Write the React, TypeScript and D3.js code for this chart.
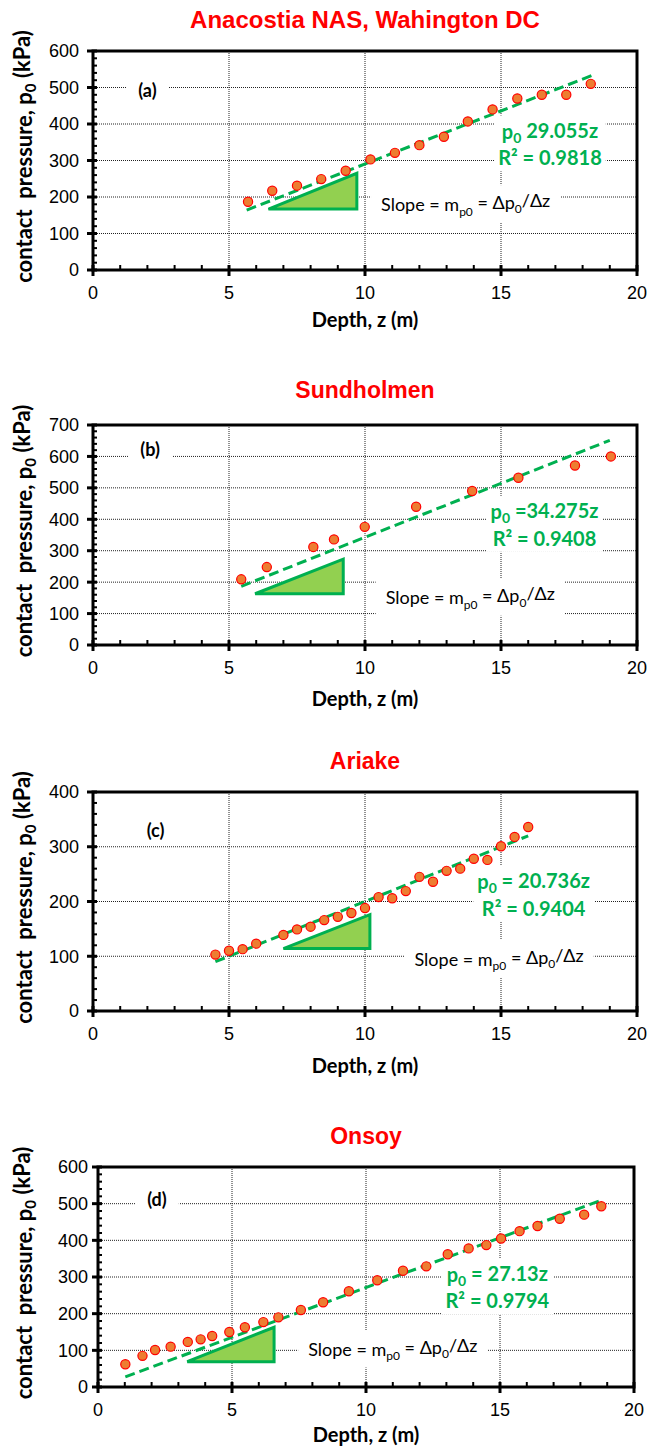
import React, { useRef, useEffect } from 'react'
import * as d3 from 'd3'

// Anacostia NAS
const depthA = [5.7, 6.59, 7.5, 8.39, 9.29, 10.2, 11.1, 12.0, 12.9, 13.78, 14.69, 15.6, 16.5, 17.4, 18.3]
const pressureA = [187, 217, 231, 249, 272, 303, 321, 342, 365, 407, 440, 470, 480, 480, 510]
// Sundholmen
const depthB = [5.45, 6.39, 8.1, 8.86, 9.99, 11.88, 13.94, 15.64, 17.72, 19.04]
const pressureB = [209, 248, 312, 336, 376, 440, 490, 532, 571, 600]
// Ariake
const depthC = [4.5, 5, 5.5, 6, 7, 7.5, 8, 8.5, 9, 9.5, 10, 10.5, 11, 11.5, 12, 12.5, 13, 13.5, 14, 14.5, 15, 15.5, 16]
const pressureC = [103, 110, 113, 123, 139, 149, 154, 166, 172, 179, 188, 208, 206, 219, 245, 236, 256, 260, 278, 276, 301, 318, 336]
// Onsoy
const depthD = [1.02, 1.66, 2.13, 2.71, 3.35, 3.83, 4.26, 4.9, 5.48, 6.17, 6.73, 7.57, 8.4, 9.36, 10.42, 11.38, 12.25, 13.05, 13.83, 14.49, 15.04, 15.73, 16.4, 17.23, 18.14, 18.78]
const pressureD = [62, 85, 101, 110, 123, 130, 139, 150, 163, 177, 190, 210, 231, 261, 291, 317, 329, 362, 378, 387, 405, 425, 439, 459, 470, 493]

const titles = ['Anacostia NAS, Wahington DC', 'Sundholmen', 'Ariake', 'Onsoy']
const tags = ['(a)', '(b)', '(c)', '(d)']
const yMaxes = [600, 700, 400, 600]
const xTicks = [0, 5, 10, 15, 20]
// fitted line: p0 = slope * z, drawn over [from, to]
const fitSlopes = [29.055, 34.275, 20.0, 27.13]
const fitRanges = [[5.65, 18.35], [5.45, 19.0], [4.5, 16.0], [1.02, 18.83]]
const eqLines = [
  ['29.055z', 'R² = 0.9818', ' '],
  ['34.275z', 'R² = 0.9408', ' ='],
  ['20.736z', 'R² = 0.9404', ' = '],
  ['27.13z', 'R² = 0.9794', ' = '],
]
// annotation anchors in data units [z, p]
const tagPos = [[2.0, 490], [2.1, 620], [2.3, 330], [2.2, 510]]
const eqPos = [[16.8, 378, 306], [16.6, 422, 338], [16.2, 235, 187], [14.9, 305, 234]]
const slopePos = [[13.7, 178], [13.87, 149], [14.93, 94], [11.0, 101]]
// slope triangles [z0, z1, p0, p1]
const triangles = [[6.45, 9.7, 167, 265], [5.96, 9.2, 163, 273], [7.0, 10.18, 114, 176], [3.33, 6.57, 69, 163]]

const series = [[depthA, pressureA], [depthB, pressureB], [depthC, pressureC], [depthD, pressureD]]

// frame geometry per panel
const frames = [
  { left: 93, right: 637, top: 51, bottom: 270, titleY: 20, titleSize: 24, xLabelDy: 50, tickGap: 14 },
  { left: 93, right: 637, top: 425, bottom: 645, titleY: 390, titleSize: 23, xLabelDy: 54, tickGap: 14 },
  { left: 93, right: 637, top: 792, bottom: 1011, titleY: 761, titleSize: 23, xLabelDy: 55, tickGap: 14 },
  { left: 98, right: 634, top: 1167, bottom: 1387, titleY: 1136, titleSize: 23, xLabelDy: 48, tickGap: 10 },
]

const GREEN = '#00B050'
const CAL = 'Lato, "DejaVu Sans", sans-serif'
const ARIAL = '"Liberation Sans", Arial, sans-serif'

export default function App() {
  const svgRef = useRef(null)

  useEffect(() => {
    const svg = d3.select(svgRef.current)
    svg.selectAll('*').remove()

    frames.forEach((f, i) => {
      const [depth, pressure] = series[i]
      const x = d3.scaleLinear().domain([0, 20]).range([f.left, f.right])
      const y = d3.scaleLinear().domain([0, yMaxes[i]]).range([f.bottom, f.top])
      const g = svg.append('g')

      // title
      g.append('text')
        .attr('x', (f.left + f.right) / 2).attr('y', f.titleY)
        .attr('dy', '0.35em')
        .attr('text-anchor', 'middle')
        .attr('font-family', ARIAL).attr('font-weight', 'bold').attr('font-size', f.titleSize)
        .attr('fill', '#FF0000')
        .text(titles[i])

      // grid
      const yGrid = d3.range(100, yMaxes[i], 100)
      g.append('g').selectAll('line').data(yGrid).join('line')
        .attr('x1', f.left).attr('x2', f.right)
        .attr('y1', (d) => y(d)).attr('y2', (d) => y(d))
        .attr('stroke', '#222').attr('stroke-width', 1).attr('stroke-dasharray', '1 1')
      g.append('g').selectAll('line').data([5, 10, 15]).join('line')
        .attr('x1', (d) => x(d)).attr('x2', (d) => x(d))
        .attr('y1', f.top).attr('y2', f.bottom)
        .attr('stroke', '#222').attr('stroke-width', 1).attr('stroke-dasharray', '1 1')

      // text boxes with white backgrounds
      const boxed = (sel, pad) => {
        const b = sel.node().getBBox()
        g.insert('rect', () => sel.node())
          .attr('x', b.x - pad[0]).attr('y', b.y - pad[1])
          .attr('width', b.width + pad[0] * 2).attr('height', b.height + pad[1] * 2)
          .attr('fill', '#fff')
      }

      const tag = g.append('text')
        .attr('x', x(tagPos[i][0])).attr('y', y(tagPos[i][1]))
        .attr('dy', '0.35em').attr('text-anchor', 'middle')
        .attr('font-family', CAL).attr('font-weight', 'bold').attr('font-size', 18)
        .text(tags[i])
      boxed(tag, [12, 3])

      const eq = g.append('text')
        .attr('font-family', CAL).attr('font-weight', 'bold').attr('font-size', 20)
        .attr('fill', GREEN).attr('text-anchor', 'middle')
      const l1 = eq.append('tspan').attr('x', x(eqPos[i][0])).attr('y', y(eqPos[i][1])).attr('dy', '0.35em')
      l1.append('tspan').text('p')
      l1.append('tspan').attr('font-size', 14).attr('dy', '0.25em').text('0')
      l1.append('tspan').attr('dy', '-0.25em').text(`${eqLines[i][2]}${eqLines[i][0]}`)
      eq.append('tspan').attr('x', x(eqPos[i][0])).attr('y', y(eqPos[i][2])).attr('dy', '0.35em')
        .text(eqLines[i][1])
      boxed(eq, [4, 2])

      const sl = g.append('text')
        .attr('x', x(slopePos[i][0])).attr('y', y(slopePos[i][1]))
        .attr('dy', '0.35em').attr('text-anchor', 'middle')
        .attr('font-family', CAL).attr('font-size', 18).attr('fill', '#000')
      sl.append('tspan').text('Slope = m')
      sl.append('tspan').attr('font-size', 12).attr('dy', '0.35em').text('p0')
      sl.append('tspan').attr('dy', '-0.35em').text(' = Δp')
      sl.append('tspan').attr('font-size', 12).attr('dy', '0.35em').text('0')
      sl.append('tspan').attr('dy', '-0.35em').text('/Δz')
      boxed(sl, [10, 4])

      // fitted line
      const [z0, z1] = fitRanges[i]
      g.append('line')
        .attr('x1', x(z0)).attr('y1', y(fitSlopes[i] * z0))
        .attr('x2', x(z1)).attr('y2', y(fitSlopes[i] * z1))
        .attr('stroke', GREEN).attr('stroke-width', 3).attr('stroke-dasharray', '10 5')

      // slope triangle
      const [tz0, tz1, tp0, tp1] = triangles[i]
      g.append('path')
        .attr('d', d3.line()([[x(tz0), y(tp0)], [x(tz1), y(tp1)], [x(tz1), y(tp0)]]) + 'Z')
        .attr('fill', '#92D050').attr('stroke', GREEN).attr('stroke-width', 3)
        .attr('stroke-linejoin', 'miter')

      // points
      g.append('g').selectAll('circle').data(depth).join('circle')
        .attr('cx', (d) => x(d)).attr('cy', (d, k) => y(pressure[k]))
        .attr('r', 4.6)
        .attr('fill', '#ED7D31').attr('stroke', '#FF0000').attr('stroke-width', 1.2)

      // frame
      g.append('rect')
        .attr('x', f.left).attr('y', f.top)
        .attr('width', f.right - f.left).attr('height', f.bottom - f.top)
        .attr('fill', 'none').attr('stroke', '#000').attr('stroke-width', 3)

      // minor ticks
      g.append('g').selectAll('line').data(d3.range(20, yMaxes[i], 20)).join('line')
        .attr('x1', f.left).attr('x2', f.left + 4)
        .attr('y1', (d) => y(d)).attr('y2', (d) => y(d))
        .attr('stroke', '#000').attr('stroke-width', 2)
      g.append('g').selectAll('line').data(d3.range(1, 20)).join('line')
        .attr('x1', (d) => x(d)).attr('x2', (d) => x(d))
        .attr('y1', f.bottom).attr('y2', f.bottom - 5)
        .attr('stroke', '#000').attr('stroke-width', 2)
      // major ticks
      const yTicks = d3.range(0, yMaxes[i] + 1, 100)
      g.append('g').selectAll('line').data(yTicks).join('line')
        .attr('x1', f.left - 6).attr('x2', f.left + 4)
        .attr('y1', (d) => y(d)).attr('y2', (d) => y(d))
        .attr('stroke', '#000').attr('stroke-width', 3)
      g.append('g').selectAll('line').data(xTicks).join('line')
        .attr('x1', (d) => x(d)).attr('x2', (d) => x(d))
        .attr('y1', f.bottom + 6).attr('y2', f.bottom - 5)
        .attr('stroke', '#000').attr('stroke-width', 3)

      // tick labels
      g.append('g').selectAll('text').data(yTicks).join('text')
        .attr('x', f.left - f.tickGap).attr('y', (d) => y(d)).attr('dy', '0.36em')
        .attr('text-anchor', 'end')
        .attr('font-family', ARIAL).attr('font-size', 18)
        .text((d) => d)
      g.append('g').selectAll('text').data(xTicks).join('text')
        .attr('x', (d) => x(d)).attr('y', f.bottom + 23).attr('dy', '0.36em')
        .attr('text-anchor', 'middle')
        .attr('font-family', ARIAL).attr('font-size', 18)
        .text((d) => d)

      // axis titles
      g.append('text')
        .attr('x', (f.left + f.right) / 2).attr('y', f.bottom + f.xLabelDy).attr('dy', '0.35em')
        .attr('text-anchor', 'middle')
        .attr('font-family', CAL).attr('font-weight', 'bold').attr('font-size', 20)
        .text('Depth, z (m)')
      const yl = g.append('text')
        .attr('transform', `translate(24,${(f.top + f.bottom) / 2 - 4}) rotate(-90)`)
        .attr('dy', '0.35em')
        .attr('text-anchor', 'middle')
        .attr('font-family', CAL).attr('font-weight', 'bold').attr('font-size', 22)
        .attr('xml:space', 'preserve')
      yl.append('tspan').text('contact  pressure, p')
      yl.append('tspan').attr('font-size', 15).attr('dy', '0.3em').text('0')
      yl.append('tspan').attr('dy', '-0.3em').text(' (kPa)')
    })
  }, [])

  return (
    <svg
      ref={svgRef}
      width={660}
      height={1452}
      style={{ position: 'absolute', left: 0, top: 0, background: '#fff' }}
    />
  )
}
